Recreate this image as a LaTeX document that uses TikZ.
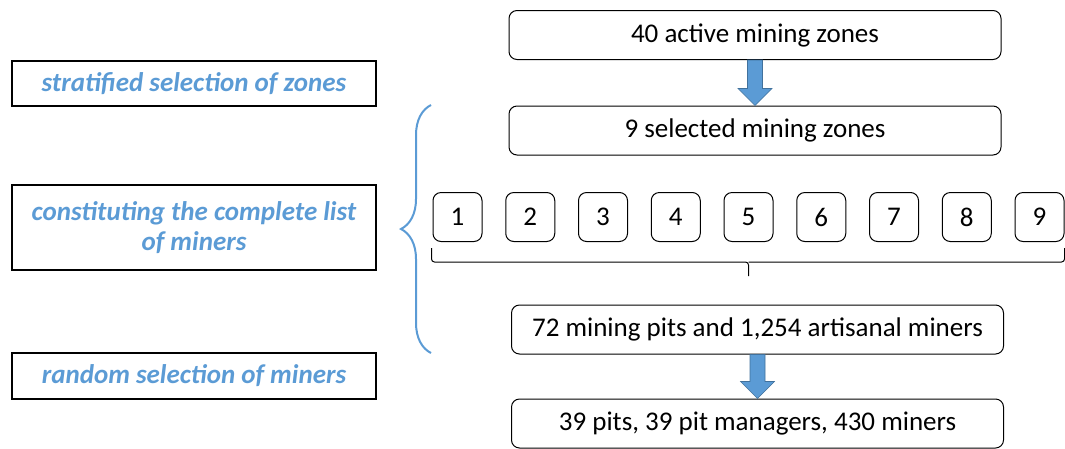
\documentclass[tikz,border=0pt]{standalone}
\usepackage{fontspec}
\setmainfont{Carlito}
\usetikzlibrary{calc,decorations.pathreplacing}
\definecolor{stepblue}{HTML}{5B9BD5}
\definecolor{stepedge}{HTML}{41719C}
\newcommand{\blockarrow}[2]{%
	\fill[stepblue, draw=stepedge, line width=0.6]
		($(#1.south)+(-7.5,0)$) -- ($(#1.south)+(7.5,0)$)
		-- ($(#2.north)+(7.5,-17)$) -- ($(#2.north)+(17,-17)$)
		-- (#2.north) -- ($(#2.north)+(-17,-17)$)
		-- ($(#2.north)+(-7.5,-17)$) -- cycle;}
\begin{document}
\begin{tikzpicture}[x=1pt,y=-1pt,
		stagebox/.style={draw, rounded corners=8, line width=1, minimum width=492,
			minimum height=49, inner sep=0, font=\fontsize{27}{30}\selectfont},
		numbox/.style={draw, rounded corners=8, line width=1, minimum width=49,
			minimum height=49, inner sep=0, font=\fontsize{27}{30}\selectfont},
		notebox/.style={draw, line width=1.5, minimum width=364, inner sep=0,
			text=stepblue, align=center, font=\fontsize{27}{30}\selectfont\bfseries\itshape}]
			\useasboundingbox (0,0) rectangle (1065,448);
			% flow of the sample
			\node[stagebox] (zones) at (755,35) {40 active mining zones};
			\node[stagebox] (selected) at (755,130.5) {9 selected mining zones};
			\foreach \i in {1,...,9}
				\node[numbox] (n\i) at ({457.5+72.75*(\i-1)},217) {\i};
			\node[stagebox] (pits) at (757.5,329.5) {72 mining pits and 1,254 artisanal miners};
			\node[stagebox] (sample) at (757.5,423.5) {39 pits, 39 pit managers, 430 miners};
			\blockarrow{zones}{selected}
			\blockarrow{pits}{sample}
			% brace under the nine zones
			\coordinate (bl) at ($(n1.south west)+(-1,6)$);
			\coordinate (br) at ($(n9.south east)+(0,6)$);
			\coordinate (bm) at ($(n5.south)+(0,20)$);
			\coordinate (bt) at ($(n5.south)+(0,34)$);
			\draw[line width=1, rounded corners=3] (bl) |- (bm) -- (bt);
			\draw[line width=1, rounded corners=3] (br) |- (bm);
			% steps on the left
			\node[notebox, minimum height=45] (strat) at (194,83.5) {stratified selection of zones};
			\node[notebox, minimum height=85] (list) at (194,227.5) {constituting the complete list\\of miners};
			\node[notebox, minimum height=46] (random) at (194,376) {random selection of miners};
			\draw[stepblue, line width=2, decorate, decoration={brace, amplitude=30}]
				(431,353) -- (431,105);
		\end{tikzpicture}
\end{document}
